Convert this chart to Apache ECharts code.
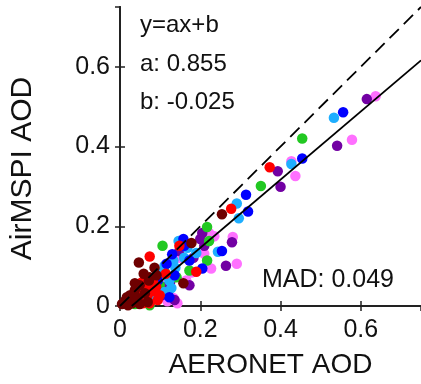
<!DOCTYPE html>
<html><head><meta charset="utf-8">
<script src="https://cdn.jsdelivr.net/npm/echarts@6/dist/echarts.min.js"></script>
<style>html,body{margin:0;padding:0;background:#fff}#c{width:421px;height:384px}</style>
</head><body><div id="c"></div>
<script>
const xTicks = [0, 0.2, 0.4, 0.6];
const fitA = 0.855, fitB = -0.025, mad = 0.049;
const lightBlue = [[0.533,0.472],[0.427,0.356],[0.291,0.257],[0.296,0.220],[0.146,0.163],[0.244,0.136],[0.190,0.133],[0.133,0.114],[0.111,0.035],[0.123,0.064],[0.099,0.081],[0.074,0.027],[0.049,0.015],[0.160,0.121],[0.138,0.096],[0.020,0.007],[0.168,0.146],[0.111,0.101],[0.128,0.045]];
const blue = [[0.556,0.486],[0.454,0.370],[0.314,0.279],[0.319,0.237],[0.158,0.168],[0.254,0.138],[0.205,0.094],[0.116,0.106],[0.123,0.022],[0.160,0.151],[0.094,0.064],[0.136,0.077],[0.173,0.114],[0.074,0.040],[0.130,0.130]];
const green = [[0.454,0.420],[0.351,0.301],[0.217,0.198],[0.222,0.163],[0.106,0.151],[0.217,0.114],[0.141,0.072],[0.084,0.020],[0.054,0.015],[0.099,0.052],[0.119,0.032],[0.074,0.002],[0.037,0.005],[0.173,0.089],[0.110,0.090]];
const purple = [[0.615,0.519],[0.541,0.402],[0.393,0.338],[0.400,0.299],[0.205,0.183],[0.279,0.160],[0.200,0.168],[0.264,0.101],[0.183,0.121],[0.111,0.047],[0.104,0.027],[0.136,0.015],[0.148,0.138],[0.210,0.151],[0.086,0.040],[0.173,0.052],[0.125,0.060]];
const pink = [[0.637,0.526],[0.578,0.417],[0.427,0.363],[0.437,0.326],[0.222,0.183],[0.281,0.173],[0.291,0.106],[0.227,0.094],[0.178,0.084],[0.148,0.121],[0.165,0.064],[0.099,0.057],[0.133,0.020],[0.143,0.007],[0.210,0.131],[0.235,0.175],[0.118,0.012]];
const red = [[0.373,0.348],[0.277,0.244],[0.148,0.151],[0.190,0.086],[0.074,0.124],[0.114,0.081],[0.069,0.064],[0.079,0.052],[0.062,0.044],[0.049,0.032],[0.086,0.037],[0.069,0.027],[0.037,0.020],[0.099,0.027],[0.054,0.059],[0.025,0.007],[0.094,0.015],[0.074,0.007],[0.057,0.007],[0.082,0.062],[0.090,0.048]];
const maroon = [[0.254,0.230],[0.178,0.158],[0.158,0.057],[0.047,0.109],[0.086,0.096],[0.091,0.077],[0.072,0.064],[0.049,0.052],[0.037,0.040],[0.062,0.032],[0.025,0.027],[0.044,0.020],[0.012,0.012],[0.030,0.007],[0.005,0.005],[0.049,0.005],[0.069,0.010],[0.017,0.022],[0.074,0.072],[0.037,0.057],[0.059,0.081],[0.020,0.002]];
const oneToOne = [[0,0],[0.75,0.75]];
const fitLine = [[-fitB/fitA, 0],[0.75, fitA*0.75+fitB]];

const F = 'Liberation Sans, Arial, Helvetica, sans-serif';
const axisCommon = {
  type:'value', min:0, max:0.75, interval:0.2,
  axisLine:{show:true, lineStyle:{color:'#222', width:2}},
  axisTick:{show:true, inside:true, length:5, lineStyle:{color:'#222', width:1.5}},
  splitLine:{show:false}
};
const chart = echarts.init(document.getElementById('c'));
function sc(data, color){ return {type:'scatter', data, symbolSize:10.5, itemStyle:{color, opacity:1}, z:2, silent:true}; }
chart.setOption({
  animation:false,
  grid:{left:120, top:7, width:304, height:304},
  xAxis:[
    Object.assign({}, axisCommon, {position:'bottom', name:'AERONET AOD', nameLocation:'middle', nameGap:45,
      nameTextStyle:{fontFamily:F, fontSize:28, color:'#111'},
      axisLabel:{show:true, showMaxLabel:false, margin:12, fontFamily:F, fontSize:25, color:'#111'}}),
    Object.assign({}, axisCommon, {position:'top', axisLabel:{show:false}})
  ],
  yAxis:[
    Object.assign({}, axisCommon, {position:'left', name:'AirMSPI AOD', nameLocation:'middle', nameGap:82,
      nameTextStyle:{fontFamily:F, fontSize:30, color:'#111', padding:[0,24,0,0]},
      axisLabel:{show:true, showMaxLabel:false, margin:10, fontFamily:F, fontSize:25, color:'#111'}}),
    Object.assign({}, axisCommon, {position:'right', axisLabel:{show:false}})
  ],
  series:[
    sc(pink,'#ff70ff'), sc(purple,'#7200a3'), sc(green,'#22c822'), sc(lightBlue,'#1eaeff'), sc(blue,'#0000ff'), sc(red,'#ff0000'), sc(maroon,'#6e0000'),
    {type:'line', data:oneToOne, symbol:'none', lineStyle:{color:'#000', width:1.8, type:[13,7]}, z:3, silent:true},
    {type:'line', data:fitLine, symbol:'none', lineStyle:{color:'#000', width:1.8}, z:3, silent:true}
  ],
  graphic:[
    {type:'text', left:140, top:13, style:{text:'y=ax+b', font:'24px '+F, fill:'#111'}},
    {type:'text', left:140, top:52, style:{text:'a: '+fitA.toFixed(3), font:'24px '+F, fill:'#111'}},
    {type:'text', left:140, top:90, style:{text:'b: '+fitB.toFixed(3), font:'24px '+F, fill:'#111'}},
    {type:'text', left:262, top:268, style:{text:'MAD: '+mad.toFixed(3), font:'25px '+F, fill:'#111'}}
  ]
});
</script></body></html>
